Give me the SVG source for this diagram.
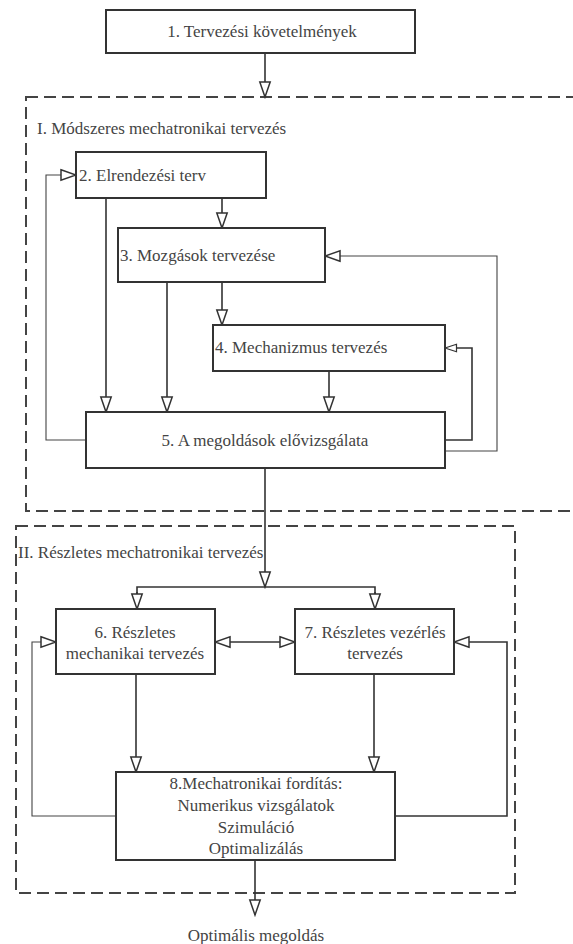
<svg xmlns="http://www.w3.org/2000/svg" width="573" height="944" viewBox="0 0 573 944">
<style>
.box{fill:#fff;stroke:#333;stroke-width:2}
.grp{fill:none;stroke:#444;stroke-width:2;stroke-dasharray:12 6}
.c{fill:none;stroke:#333;stroke-width:1.6}
.t{fill:none;stroke:#444;stroke-width:1.1}
text{font-size:17px;fill:#444}
.m{text-anchor:middle}
</style>
<defs>
<marker id="a" markerUnits="userSpaceOnUse" markerWidth="18" markerHeight="14" refX="16" refY="6" orient="auto-start-reverse" viewBox="0 0 18 12">
<path d="M1,0.8 L16,6 L1,11.2 Z" fill="#fff" stroke="#333" stroke-width="1.5"/>
</marker>
<marker id="s" markerUnits="userSpaceOnUse" markerWidth="14" markerHeight="10" refX="12.5" refY="4.5" orient="auto" viewBox="0 0 14 9">
<path d="M1,0.8 L12.5,4.5 L1,8.2 Z" fill="#fff" stroke="#333" stroke-width="1.2"/>
</marker>
</defs>
<rect width="573" height="944" fill="#fff"/>
<g font-family="'Liberation Serif', 'DejaVu Serif', serif">
<g id="groups">
<rect class="grp" x="26" y="97" width="560" height="414"/>
<text x="37" y="134">I. Módszeres mechatronikai tervezés</text>
<rect class="grp" x="16" y="526" width="499" height="367"/>
<text x="18" y="558">II. Részletes mechatronikai tervezés</text>
</g>
<g id="connectors">
<line class="c" x1="265" y1="53" x2="265" y2="97" marker-end="url(#a)"/>
<polyline class="t" points="86,440 46,440 46,175 76,175" marker-end="url(#a)"/>
<line class="c" x1="106" y1="198" x2="106" y2="412" marker-end="url(#a)"/>
<line class="c" x1="222" y1="198" x2="222" y2="228" marker-end="url(#a)"/>
<polyline class="t" points="445,451 497,451 497,256 325,256" marker-end="url(#a)"/>
<line class="c" x1="167" y1="282" x2="167" y2="412" marker-end="url(#a)"/>
<line class="c" x1="222" y1="282" x2="222" y2="325" marker-end="url(#a)"/>
<polyline class="c" points="445,440 472,440 472,348 445,348" marker-end="url(#s)"/>
<line class="c" x1="329" y1="371" x2="329" y2="412" marker-end="url(#a)"/>
<line class="c" x1="265" y1="468" x2="265" y2="587" marker-end="url(#a)"/>
<polyline class="c" points="137,609 137,587 375,587 375,609"/>
<line class="c" x1="137" y1="592" x2="137" y2="609" marker-end="url(#a)"/>
<line class="c" x1="375" y1="592" x2="375" y2="609" marker-end="url(#a)"/>
<line class="c" x1="215" y1="642" x2="295" y2="642" marker-start="url(#a)" marker-end="url(#a)"/>
<polyline class="t" points="116,816 32,816 32,642 56,642" marker-end="url(#a)"/>
<polyline class="c" points="395,816 507,816 507,642 454,642" marker-end="url(#a)"/>
<line class="c" x1="136" y1="674" x2="136" y2="772" marker-end="url(#a)"/>
<line class="c" x1="374" y1="674" x2="374" y2="772" marker-end="url(#a)"/>
<line class="c" x1="255" y1="860" x2="255" y2="915" marker-end="url(#a)"/>
</g>
<g id="n1"><rect class="box" x="106" y="10" width="309" height="43"/><text class="m" x="262" y="37">1. Tervezési követelmények</text></g>
<g id="n2"><rect class="box" x="76" y="152" width="190" height="46"/><text x="79" y="181">2. Elrendezési terv</text></g>
<g id="n3"><rect class="box" x="118" y="228" width="207" height="54"/><text x="120" y="261">3. Mozgások tervezése</text></g>
<g id="n4"><rect class="box" x="213" y="325" width="232" height="46"/><text x="215" y="353">4. Mechanizmus tervezés</text></g>
<g id="n5"><rect class="box" x="86" y="412" width="359" height="56"/><text class="m" x="265" y="446">5. A megoldások elővizsgálata</text></g>
<g id="n6"><rect class="box" x="56" y="609" width="159" height="65"/><text class="m" x="135" y="638">6. Részletes</text><text class="m" x="135" y="659">mechanikai tervezés</text></g>
<g id="n7"><rect class="box" x="295" y="609" width="159" height="65"/><text class="m" x="375" y="638">7. Részletes vezérlés</text><text class="m" x="375" y="659">tervezés</text></g>
<g id="n8"><rect class="box" x="116" y="772" width="279" height="88"/>
<text class="m" x="256" y="789">8.Mechatronikai fordítás:</text>
<text class="m" x="256" y="811">Numerikus vizsgálatok</text>
<text class="m" x="256" y="833">Szimuláció</text>
<text class="m" x="256" y="854">Optimalizálás</text></g>
<g id="out"><text class="m" x="256" y="941">Optimális megoldás</text></g>
</g>
</svg>
